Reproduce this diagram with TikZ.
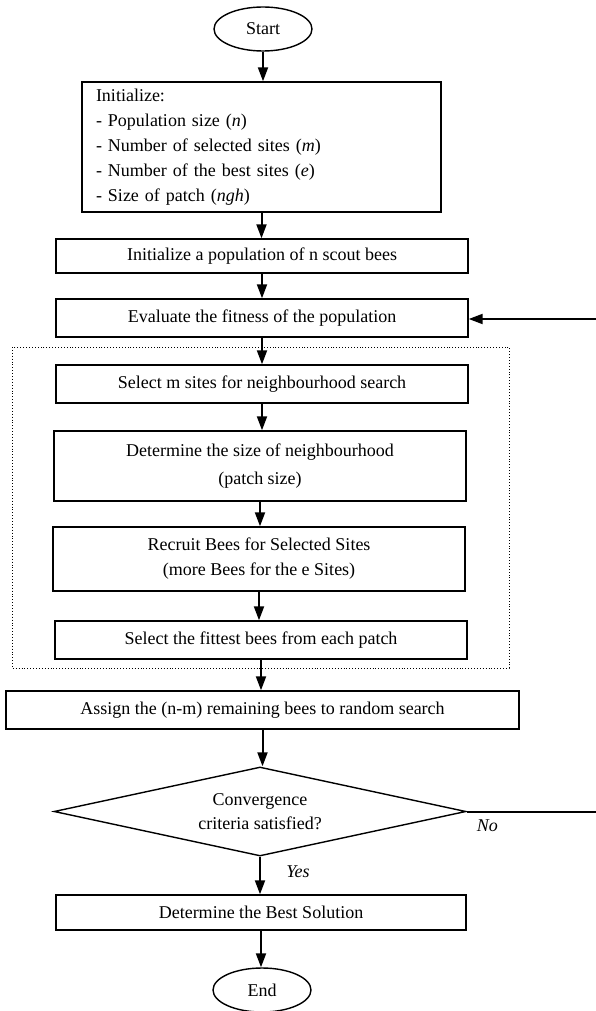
\documentclass[tikz,border=0pt]{standalone}
\usepackage{fontspec}
\setmainfont{Liberation Serif}
\usetikzlibrary{shapes.geometric,arrows.meta}

\begin{document}
\begin{tikzpicture}[x=1pt,y=-1pt,
		box/.style={draw, line width=1.4pt, inner sep=0pt, align=center,
			font=\fontsize{18}{25}\selectfont},
		term/.style={draw, ellipse, line width=1.4pt, inner sep=0pt,
			minimum width=98pt, minimum height=44pt, font=\fontsize{18}{20}\selectfont},
		arr/.style={-{Triangle[length=14pt,width=10pt]}, line width=2pt},
		lbl/.style={font=\fontsize{18}{20}\selectfont\itshape}]
	\useasboundingbox (0,0) rectangle (596,1011);

	% Terminals
	\node[term] (start) at (263,29) {Start};
	\node[term] (end) at (262,990) {End};

	% Boxes
	\node[box, minimum width=359pt, minimum height=130pt, text width=331pt, align=left]
		(init) at (261.5,147) {Initialize:\\
		- Population size (\textit{n})\\
		- Number of selected sites (\textit{m})\\
		- Number of the best sites (\textit{e})\\
		- Size of patch (\textit{ngh})};
	\node[box, minimum width=412pt, minimum height=34pt] (scout) at (262,256)
		{Initialize a population of n scout bees};
	\node[box, minimum width=412pt, minimum height=38pt] (eval) at (262,318)
		{Evaluate the fitness of the population};
	\node[box, minimum width=412pt, minimum height=38pt] (select) at (262,384)
		{Select m sites for neighbourhood search};
	\node[box, minimum width=412pt, minimum height=70pt, font=\fontsize{18}{28}\selectfont]
		(patch) at (260,466) {Determine the size of neighbourhood\\(patch size)};
	\node[box, minimum width=412pt, minimum height=64pt] (recruit) at (259,559)
		{Recruit Bees for Selected Sites\\(more Bees for the e Sites)};
	\node[box, minimum width=412pt, minimum height=38pt] (fittest) at (261,640)
		{Select the fittest bees from each patch};
	\node[box, minimum width=513pt, minimum height=38pt] (assign) at (262.5,710)
		{Assign the (n-m) remaining bees to random search};
	\node[box, diamond, aspect=4.63, minimum width=412pt, minimum height=89pt,
		font=\fontsize{18}{24}\selectfont] (conv) at (260,811.5)
		{Convergence\\criteria satisfied?};
	\node[box, minimum width=410pt, minimum height=35pt] (best) at (261,912.5)
		{Determine the Best Solution};

	% Dotted group
	\draw[dotted, line width=0.9pt] (12,347) rectangle (509,668);

	% Connectors
	\draw[arr] (start.south) -- (start.south |- init.north);
	\draw[arr] (init.south) -- (init.south |- scout.north);
	\draw[arr] (scout.south) -- (eval.north);
	\draw[arr] (eval.south) -- (select.north);
	\draw[arr] (select.south) -- (select.south |- patch.north);
	\draw[arr] (patch.south) -- (patch.south |- recruit.north);
	\draw[arr] (recruit.south) -- (recruit.south |- fittest.north);
	\draw[arr] (fittest.south) -- (fittest.south |- assign.north);
	\draw[arr] (assign.south) -- (assign.south |- conv.north);
	\draw[arr] (conv.south) -- (conv.south |- best.north)
		node[lbl, pos=0.4, right=22pt] {Yes};
	\draw[arr] (best.south) -- (best.south |- end.north);

	% Loop back
	\coordinate (noend) at (596,811.5);
	\coordinate (backin) at (596,319);
	\draw[line width=2pt] (conv.east) -- (noend)
		node[lbl, pos=0.16, below=4pt] {No};
	\draw[arr] (backin) -- (eval.east |- backin);
\end{tikzpicture}
\end{document}
